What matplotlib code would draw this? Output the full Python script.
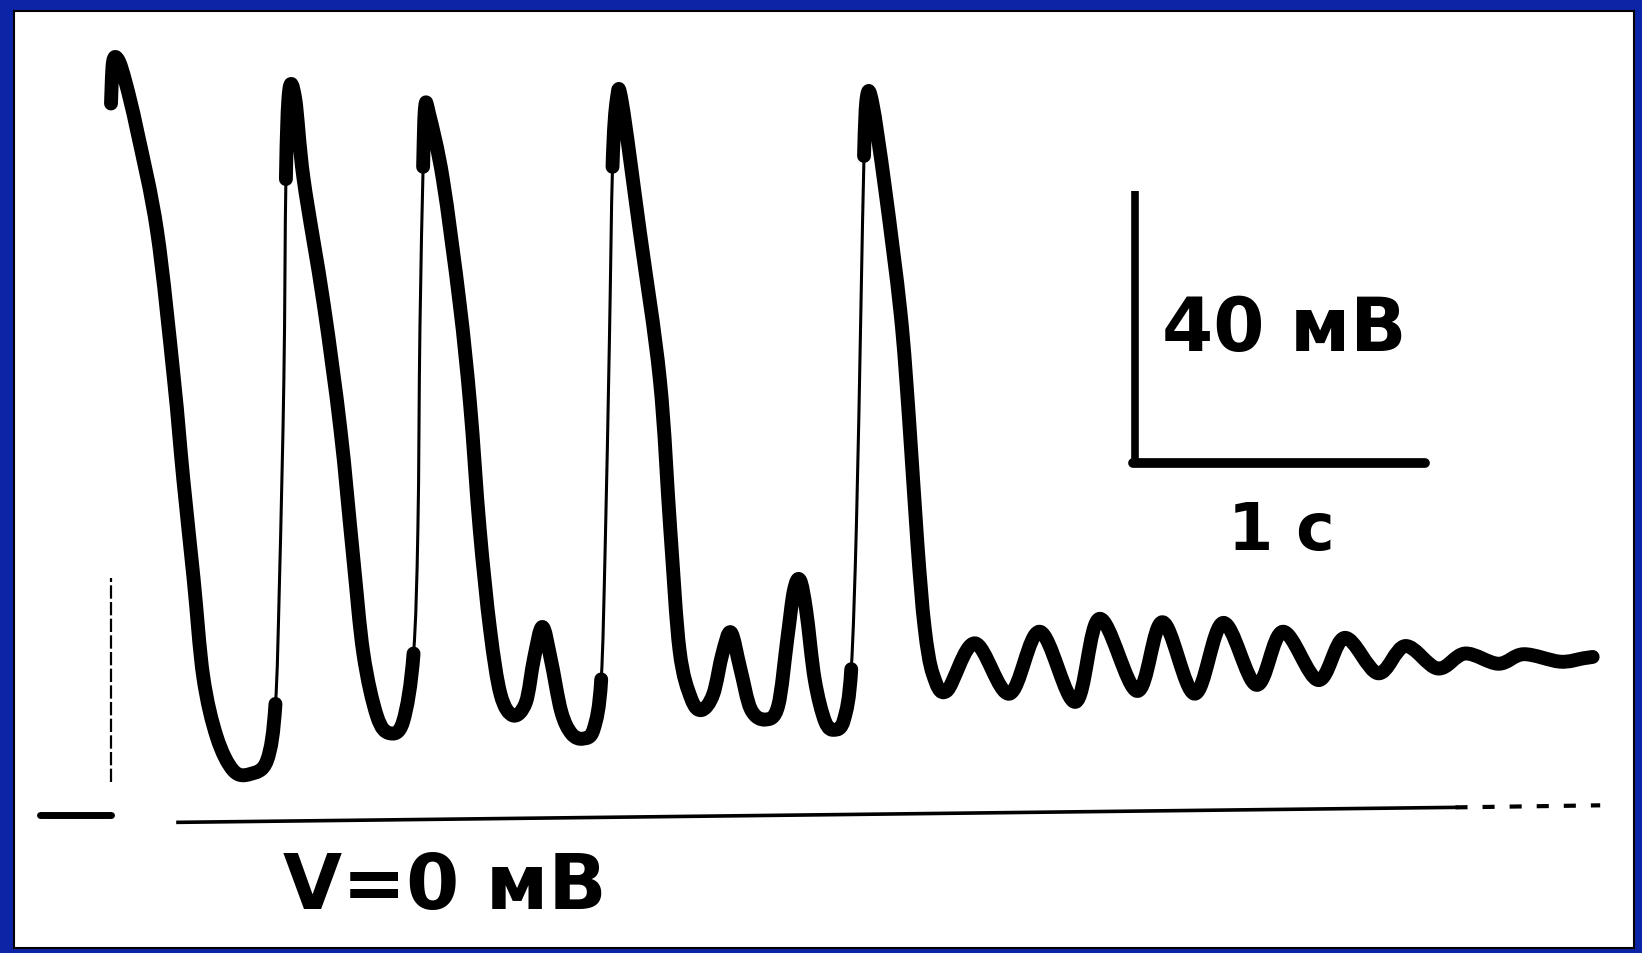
import numpy as np
import matplotlib.pyplot as plt
from matplotlib.path import Path
from matplotlib.patches import PathPatch

# Membrane potential trace: time (s), voltage (mV above the V = 0 line)
t = [0.000, 0.007, 0.025, 0.051, 0.090, 0.159, 0.217, 0.249, 0.285, 0.318,
     0.365, 0.422, 0.480, 0.538, 0.567, 0.581, 0.596, 0.603, 0.614, 0.635,
     0.664, 0.733, 0.791, 0.834, 0.870, 0.917, 0.960, 1.007, 1.043, 1.058,
     1.065, 1.076, 1.083, 1.097, 1.144, 1.202, 1.238, 1.271, 1.307, 1.343,
     1.386, 1.430, 1.458, 1.487, 1.516, 1.552, 1.588, 1.628, 1.664, 1.690,
     1.704, 1.718, 1.729, 1.744, 1.762, 1.823, 1.892, 1.928, 1.960, 2.000,
     2.036, 2.076, 2.108, 2.137, 2.170, 2.206, 2.256, 2.300, 2.332, 2.354,
     2.375, 2.397, 2.426, 2.462, 2.495, 2.527, 2.552, 2.570, 2.585, 2.596,
     2.606, 2.625, 2.668, 2.722, 2.751, 2.780, 2.805, 2.834, 2.881, 2.978,
     3.097, 3.202, 3.325, 3.408, 3.538, 3.625, 3.736, 3.834, 3.949, 4.040,
     4.162, 4.253, 4.368, 4.462, 4.574, 4.668, 4.783, 4.870, 4.996, 5.076,
     5.108]
v = [104.8, 110.9, 111.2, 107.8, 100.8, 86.0, 64.3, 49.7, 34.9, 20.6,
     11.7, 6.8, 6.3, 8.3, 16.6, 34.9, 64.3, 93.7, 106.6, 105.5,
     93.7, 75.4, 56.9, 38.6, 24.0, 14.8, 12.3, 14.0, 24.0, 42.3,
     71.7, 95.5, 104.3, 103.2, 93.7, 75.4, 60.6, 42.3, 27.5, 18.0,
     14.9, 16.8, 23.2, 27.9, 23.2, 15.5, 12.2, 11.5, 12.9, 20.2,
     40.2, 69.4, 95.5, 105.5, 104.8, 86.0, 64.3, 42.3, 24.5, 17.4,
     15.7, 18.0, 24.0, 27.1, 21.7, 15.8, 14.3, 16.3, 26.3, 33.2,
     34.8, 30.2, 20.2, 14.0, 12.8, 14.3, 21.7, 43.2, 74.0, 97.1,
     105.8, 104.8, 92.5, 74.0, 58.6, 40.2, 27.8, 20.9, 18.5, 25.5,
     18.1, 27.2, 16.9, 29.1, 18.5, 28.6, 18.1, 28.5, 19.4, 27.2,
     20.1, 26.3, 21.1, 25.1, 21.8, 24.0, 22.5, 23.9, 22.8, 23.3,
     23.5]

# holding level before the first spike and the faint trace of its upstroke
rest_t = [-0.245, 0.0]
rest_v = [0.3, 0.3]
jump_t = [0.0, 0.0]
jump_v = [5.1, 35.1]

# zero-voltage reference line (slight drift of the recorder)
zero_t = [0.231, 4.635, 5.134]
zero_v = [-0.8, 1.4, 1.7]

# scale bars
bar_t0, bar_v0 = 3.53, 52.0
bar_dt, bar_dv = 1.0, 40.0

blue = '#0c24a6'
fig = plt.figure(figsize=(16.42, 9.54), dpi=100, facecolor=blue)
ax = fig.add_axes([14 / 1642, 5 / 954, 1620 / 1642, 937 / 954])
ax.set_facecolor('white')
ax.set_xlim(-0.3344, 5.2505)
ax.set_ylim(-19.26, 118.39)
ax.set_xticks([])
ax.set_yticks([])
for s in ax.spines.values():
    s.set_color('black')
    s.set_linewidth(1.5)

tt = np.array(t)
vv = np.array(v)
n = len(tt)


def bezier_run(i0, i1):
    # smooth curve (Catmull-Rom as cubic Bezier) through points i0..i1
    verts = [(tt[i0], vv[i0])]
    codes = [Path.MOVETO]
    for i in range(i0, i1):
        p0 = np.array([tt[max(i - 1, 0)], vv[max(i - 1, 0)]])
        p1 = np.array([tt[i], vv[i]])
        p2 = np.array([tt[i + 1], vv[i + 1]])
        p3 = np.array([tt[min(i + 2, n - 1)], vv[min(i + 2, n - 1)]])
        c1 = p1 + (p2 - p0) / 6
        c2 = p2 - (p3 - p1) / 6
        verts += [tuple(c1), tuple(c2), tuple(p2)]
        codes += [Path.CURVE4] * 3
    return Path(verts, codes)


# pen draws thin where the trace rises fast
rate = np.diff(vv) / np.diff(tt)
fast = (rate > 700) & (np.minimum(vv[:-1], vv[1:]) < 90)

start = 0
for i in range(1, n):
    if i == n - 1 or fast[i] != fast[start]:
        lw = 2.2 if fast[start] else 10
        ax.add_patch(PathPatch(bezier_run(start, i), fill=False, lw=lw,
                               edgecolor='black', capstyle='round',
                               joinstyle='round'))
        start = i

ax.plot(rest_t, rest_v, color='black', lw=5, solid_capstyle='round')
ax.plot(jump_t, jump_v, color='black', lw=1.6, dashes=(6, 1.5))
ax.plot(zero_t[:2], zero_v[:2], color='black', lw=2.6)
ax.plot(zero_t[1:], zero_v[1:], color='black', lw=3, dashes=(2.9, 3.6))

ax.plot([bar_t0, bar_t0], [bar_v0, bar_v0 + bar_dv], color='black', lw=5.5,
        solid_capstyle='butt')
ax.plot([bar_t0 - 0.008, bar_t0 + bar_dt], [bar_v0, bar_v0], color='black',
        lw=7, solid_capstyle='round')

font = dict(family='DejaVu Sans', weight='bold', color='black')
ax.text(3.625, 68.6, '40 мВ', fontsize=53, ha='left', va='baseline', **font)
ax.text(3.852, 39.4, '1 с', fontsize=47, ha='left', va='baseline', **font)
ax.text(0.592, -13.4, 'V=0 мВ', fontsize=55, ha='left', va='baseline', **font)

fig.savefig('out.png', dpi=100, facecolor=fig.get_facecolor())
